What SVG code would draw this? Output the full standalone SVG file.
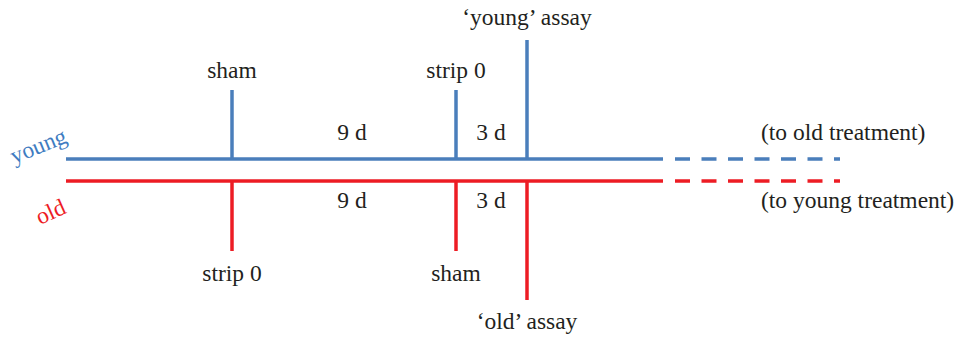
<svg xmlns="http://www.w3.org/2000/svg" width="959" height="338" viewBox="0 0 959 338">
<style>
.t{font-family:"Liberation Serif","Times New Roman",serif;font-size:23.5px;fill:#231f20}
.c{text-anchor:middle}
.b{stroke:#4a7ebb;stroke-width:3.5;fill:none}
.r{stroke:#ed1c24;stroke-width:3.5;fill:none}
.d{stroke-dasharray:15 11.5}
</style>
<rect width="959" height="338" fill="#fff"/>
<g id="connectors">
<line class="b" x1="66" y1="159" x2="663" y2="159"/>
<line class="b d" x1="675" y1="159" x2="840" y2="159"/>
<line class="r" x1="66" y1="181" x2="663" y2="181"/>
<line class="r d" x1="675" y1="181" x2="840" y2="181"/>
</g>
<g id="young-label"><text class="t" x="14" y="164" transform="rotate(-22 14 164)" style="fill:#3f7cc1">young</text></g>
<g id="old-label"><text class="t" x="40" y="225" transform="rotate(-24 40 225)" style="fill:#ed1c24">old</text></g>
<g id="young-sham"><line class="b" x1="232" y1="90" x2="232" y2="159"/><text class="t c" x="232" y="78">sham</text></g>
<g id="young-strip"><line class="b" x1="456" y1="90" x2="456" y2="159"/><text class="t c" x="456" y="78">strip 0</text></g>
<g id="young-assay"><line class="b" x1="527" y1="40" x2="527" y2="159"/><text class="t c" x="527" y="25">‘young’ assay</text></g>
<g id="young-9d"><text class="t c" x="352" y="140">9 d</text></g>
<g id="young-3d"><text class="t c" x="491" y="140">3 d</text></g>
<g id="young-next"><text class="t" x="761" y="140">(to old treatment)</text></g>
<g id="old-strip"><line class="r" x1="232" y1="181" x2="232" y2="251"/><text class="t c" x="232" y="281">strip 0</text></g>
<g id="old-sham"><line class="r" x1="456" y1="181" x2="456" y2="251"/><text class="t c" x="456" y="281">sham</text></g>
<g id="old-assay"><line class="r" x1="527" y1="181" x2="527" y2="300"/><text class="t c" x="527" y="329">‘old’ assay</text></g>
<g id="old-9d"><text class="t c" x="352" y="208">9 d</text></g>
<g id="old-3d"><text class="t c" x="491" y="208">3 d</text></g>
<g id="old-next"><text class="t" x="761" y="208">(to young treatment)</text></g>
</svg>
